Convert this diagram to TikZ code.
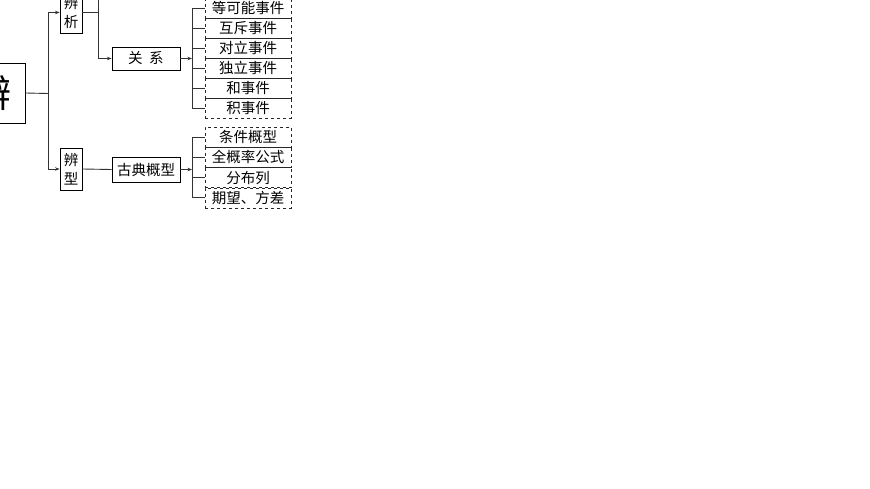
\documentclass[tikz,border=0pt]{standalone}
\usepackage{fontspec}
\newfontfamily\cjk{Noto Sans CJK SC}
\usetikzlibrary{arrows.meta}

\tikzset{
    box/.style={draw, line width=0.9pt, inner sep=0pt, align=center,
        font=\cjk\fontsize{14.5}{19}\selectfont},
    dbox/.style={draw=black!85, dashed, line width=0.7pt, inner sep=0pt,
        minimum width=86pt, minimum height=20pt,
        font=\cjk\fontsize{14.5}{16}\selectfont},
    link/.style={draw=black!80, line width=0.9pt},
    arr/.style={link, -{Stealth[length=4.5pt,width=3.5pt]}},
}

\begin{document}
\begin{tikzpicture}[x=1pt, y=-1pt]

    % --- Frame (the picture is cut at the top and on the left) ---
    \useasboundingbox (0,0) rectangle (870,489);
    \clip (0,0) rectangle (870,489);

    % --- Coordinates ---
    \coordinate (J) at (48,93.5);   % split below the big box
    \coordinate (K) at (98,12.5);   % split right of the first small box
    \coordinate (Up) at (98,-10);   % line running on above the top edge
    \coordinate (P) at (192,58.5);  % bracket of the relations
    \coordinate (R) at (192,169.5); % bracket of the classical model

    % --- Boxes ---
    \node[box, minimum width=65pt, minimum height=60pt,
        font=\cjk\fontsize{38}{40}\selectfont] (bian) at (-7.5,93) {辨};
    \node[box, minimum width=22pt, minimum height=41pt] (bianxi) at (71,12.5) {辨\\析};
    \node[box, minimum width=22pt, minimum height=42pt] (bianxing) at (71,169) {辨\\型};
    \node[box, minimum width=68pt, minimum height=23pt] (guanxi) at (146,58.5) {关\hspace{0.45em}系};
    \node[box, minimum width=68pt, minimum height=25pt] (gudian) at (146,169.5) {古典概型};

    % --- Dashed lists ---
    \foreach \t [count=\i] in {等可能事件,互斥事件,对立事件,独立事件,和事件,积事件}
        \node[dbox] (e\i) at (248,{-12+20*\i}) {\t};
    \foreach \t [count=\i] in {条件概型,全概率公式,分布列,期望、方差}
        \node[dbox] (g\i) at (248,{116.7+20.3*\i}) {\t};

    % --- Connectors ---
    \draw[link] (bian.east) -- (J);
    \draw[arr] (J) |- (bianxi.west);
    \draw[arr] (J) |- (bianxing.west);

    \draw[link] (bianxi.east) -- (K);
    \draw[arr] (Up) |- (guanxi.west);
    \draw[link] (bianxing.east) -- (gudian.west);

    \draw[arr] (guanxi.east) -- (P);
    \draw[link] (e1.west -| P) -- (e6.west -| P);
    \foreach \i in {1,...,6}
        \draw[link] (e\i.west -| P) -- (e\i.west);

    \draw[arr] (gudian.east) -- (R);
    \draw[link] (g1.west -| R) -- (g4.west -| R);
    \foreach \i in {1,...,4}
        \draw[link] (g\i.west -| R) -- (g\i.west);

\end{tikzpicture}
\end{document}
